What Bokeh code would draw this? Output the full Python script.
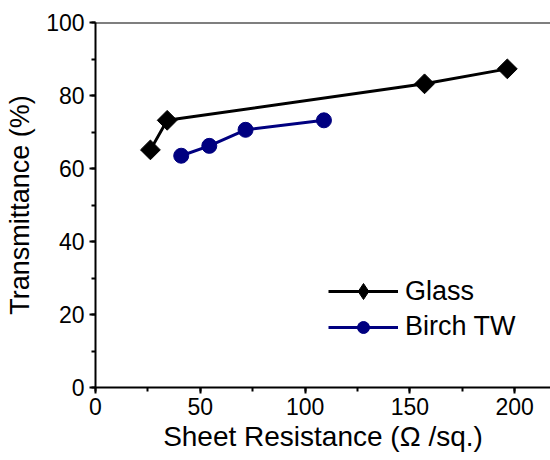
import numpy as np
from bokeh.plotting import figure
from bokeh.models import (Range1d, Span, Legend, LegendItem, SingleIntervalTicker,
                          ColumnDataSource)
from bokeh.embed import file_html
from bokeh.resources import INLINE

# Data
glass_r = [26.2, 34.2, 157.0, 196.5]
glass_t = [65.1, 73.2, 83.2, 87.3]
birch_r = [40.9, 54.3, 71.6, 109.0]
birch_t = [63.5, 66.2, 70.6, 73.2]
series_names = ["Glass", "Birch TW"]
x_title = "Sheet Resistance (\u03a9 /sq.)"
y_title = "Transmittance (%)"

FONT = "Liberation Sans"

p = figure(width=550, height=460, output_backend="svg", toolbar_location=None,
           x_range=Range1d(0, 217.1), y_range=Range1d(0, 100),
           min_border_left=95, min_border_right=0, min_border_top=22,
           min_border_bottom=73)
p.outline_line_color = None
p.xgrid.visible = False
p.ygrid.visible = False
p.background_fill_color = "white"
p.border_fill_color = "white"

for ax in (p.xaxis[0], p.yaxis[0]):
    ax.axis_line_width = 2
    ax.axis_line_color = "black"
    ax.major_tick_line_width = 2
    ax.minor_tick_line_width = 2
    ax.major_tick_out = 6
    ax.major_tick_in = 0
    ax.minor_tick_out = 4
    ax.minor_tick_in = 0
    ax.major_label_text_font = FONT
    ax.major_label_text_font_size = "23px"
    ax.major_label_text_color = "black"
    ax.axis_label_text_font = FONT
    ax.axis_label_text_font_style = "normal"
    ax.axis_label_text_color = "black"

p.xaxis[0].axis_label_text_font_size = "28px"
p.yaxis[0].axis_label_text_font_size = "27px"
p.xaxis[0].ticker = SingleIntervalTicker(interval=50, num_minor_ticks=2)
p.yaxis[0].ticker = SingleIntervalTicker(interval=20, num_minor_ticks=2)
p.xaxis[0].axis_label = x_title
p.yaxis[0].axis_label = y_title
p.xaxis[0].axis_label_standoff = 3
p.yaxis[0].axis_label_standoff = 8
p.xaxis[0].major_label_standoff = 4
p.yaxis[0].major_label_standoff = 5

top_line = Span(location=100, dimension="width", line_color="black", line_width=2)
p.add_layout(top_line)

navy = "#000080"
glass_src = ColumnDataSource(data=dict(x=glass_r, y=glass_t))
birch_src = ColumnDataSource(data=dict(x=birch_r, y=birch_t))

gl = p.line("x", "y", source=glass_src, line_color="black", line_width=3)
# diamond used for the legend symbol; in the plot it sits hidden under the rotated squares
gleg = p.scatter("x", "y", source=glass_src, marker="diamond", size=12,
                 fill_color="black", line_color="black")
gm = p.scatter("x", "y", source=glass_src, marker="square", angle=np.pi / 4, size=14,
               fill_color="black", line_color="black")
bl = p.line("x", "y", source=birch_src, line_color=navy, line_width=3)
bm = p.scatter("x", "y", source=birch_src, marker="circle", size=15,
               fill_color=navy, line_color=navy)

common = dict(glyph_width=70, label_text_font=FONT, label_text_font_size="27px",
              label_text_color="black", label_standoff=7, spacing=0, padding=0,
              margin=0, border_line_color=None, background_fill_alpha=0)

legend1 = Legend(items=[LegendItem(label=series_names[0], renderers=[gl, gleg])],
                 location=(233, 76), glyph_height=40, **common)
legend2 = Legend(items=[LegendItem(label=series_names[1], renderers=[bl, bm])],
                 location=(233, 45), glyph_height=30, **common)
p.add_layout(legend1)
p.add_layout(legend2)

open("out.html", "w").write(file_html(p, INLINE))
